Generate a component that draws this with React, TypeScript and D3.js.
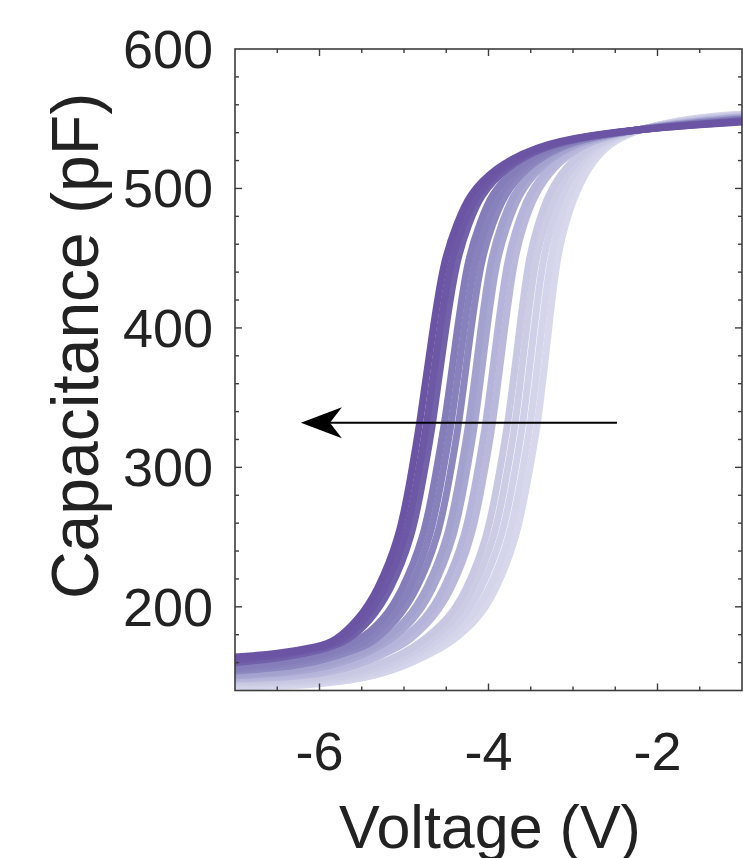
import React from "react";
import * as d3 from "d3";

// ---- data ----
const tailVoltages = [-7, -6.5, -6, -5.5, -5, -4.5];
const capLevels = [175, 190, 210, 250, 290, 330, 390, 450, 475, 495, 515, 530, 538];
const headVoltages = [-2, -1.5, -1];

// capacitance (pF) at tailVoltages (only while still in the flat part)
const curveTails = [
  [164, 166.2, 171.5],
  [162, 165, 170.3],
  [160, 162.9, 168.4],
  [157, 159.6, 164.8],
  [155.5, 158, 162.8, 173.4],
  [154, 156, 160.5, 170.7],
  [151.5, 153.3, 157.2, 166.9],
  [150.5, 152.2, 155.4, 164.6],
  [149, 150.3, 153, 160.8],
  [148, 149.1, 151.5, 158.3, 173.4],
  [146.5, 147.2, 149.1, 154, 166.4],
  [145.5, 146.1, 147.7, 151.8, 163.1],
  [144.5, 145, 146.4, 149.7, 159.9],
  [143.5, 143.8, 145, 148.1, 156.9],
  [142.5, 143, 144.5, 148.5, 156.5, 172.5],
];

// voltage (V) at which each curve crosses capLevels
const curveCrossings = [
  [-5.82, -5.55, -5.32, -5.05, -4.93, -4.815, -4.68, -4.53, -4.37, -4.24, -3.92, -3.45, -2.85],
  [-5.74, -5.47, -5.24, -4.97, -4.85, -4.73, -4.6, -4.45, -4.29, -4.16, -3.85, -3.4, -2.82],
  [-5.67, -5.4, -5.17, -4.9, -4.78, -4.66, -4.53, -4.38, -4.23, -4.1, -3.8, -3.36, -2.8],
  [-5.53, -5.25, -5.03, -4.76, -4.64, -4.52, -4.39, -4.25, -4.1, -3.98, -3.69, -3.27, -2.76],
  [-5.45, -5.17, -4.94, -4.68, -4.56, -4.44, -4.31, -4.17, -4.02, -3.9, -3.62, -3.22, -2.73],
  [-5.36, -5.09, -4.86, -4.59, -4.47, -4.35, -4.23, -4.09, -3.95, -3.82, -3.56, -3.17, -2.7],
  [-5.25, -4.97, -4.74, -4.47, -4.35, -4.23, -4.11, -3.98, -3.84, -3.72, -3.46, -3.1, -2.66],
  [-5.18, -4.89, -4.67, -4.4, -4.28, -4.16, -4.04, -3.91, -3.77, -3.65, -3.41, -3.06, -2.64],
  [-5.05, -4.76, -4.54, -4.27, -4.15, -4.03, -3.91, -3.78, -3.65, -3.53, -3.3, -2.98, -2.6],
  [-4.96, -4.68, -4.45, -4.19, -4.07, -3.95, -3.83, -3.7, -3.58, -3.46, -3.24, -2.93, -2.57],
  [-4.79, -4.49, -4.27, -4.01, -3.89, -3.77, -3.65, -3.53, -3.41, -3.3, -3.1, -2.82, -2.51],
  [-4.7, -4.41, -4.19, -3.92, -3.8, -3.68, -3.57, -3.45, -3.33, -3.22, -3.03, -2.77, -2.49],
  [-4.61, -4.32, -4.1, -3.83, -3.71, -3.59, -3.48, -3.36, -3.25, -3.14, -2.96, -2.72, -2.46],
  [-4.52, -4.23, -4.0, -3.74, -3.62, -3.5, -3.39, -3.27, -3.17, -3.06, -2.89, -2.66, -2.43],
  [-4.44, -4.14, -3.92, -3.66, -3.54, -3.415, -3.305, -3.195, -3.09, -2.98, -2.82, -2.61, -2.4],
];

// capacitance (pF) at headVoltages
const curveHeads = [
  [543.5, 545.6, 547.7],
  [543.6, 545.9, 548.1],
  [543.7, 546.2, 548.5],
  [543.9, 546.7, 549.1],
  [544, 547, 549.5],
  [544.2, 547.4, 549.9],
  [544.4, 547.9, 550.4],
  [544.5, 548.2, 550.7],
  [544.8, 548.7, 551.2],
  [545, 549, 551.5],
  [545.3, 549.7, 552.2],
  [545.4, 550, 552.5],
  [545.6, 550.4, 552.8],
  [545.8, 550.8, 553.1],
  [546, 551.2, 553.4],
];

const curveColors = [
  "#6a54a3", "#6d58a6", "#7260aa",
  "#847db9", "#8882bc", "#8c87bf",
  "#a3a2cf", "#a8a7d2",
  "#b5b4da", "#bab9dc",
  "#c8c8e3", "#cccce5", "#d0d0e8", "#d4d4ea", "#d8d8ec",
];

const xTickLabels = [-6, -4, -2];
const xMinorTicks = [-6.5, -6, -5.5, -5, -4.5, -4, -3.5, -3, -2.5, -2, -1.5];
const yTickLabels = [200, 300, 400, 500, 600];
const yMinorTicks = [160, 180, 200, 220, 240, 260, 280, 300, 320, 340, 360, 380, 400, 420, 440, 460, 480, 500, 520, 540, 560, 580];

const arrowStart = [-2.48, 332];
const arrowEnd = [-6.22, 332];

const W = 743;
const H = 858;
const FONT = "'Liberation Sans', Arial, Helvetica, sans-serif";

export default function App() {
  const left = 235, right = 742, top = 49, bottom = 690.5;
  const x = d3.scaleLinear().domain([-7, -1]).range([left, right]);
  const y = d3.scaleLinear().domain([140, 600]).range([bottom, top]);

  const line = d3
    .line<number[]>()
    .x((d) => x(d[0]))
    .y((d) => y(d[1]))
    .curve(d3.curveBasis);

  const curves = curveCrossings.map((cross, i) => {
    const pts: number[][] = [];
    curveTails[i].forEach((c, j) => pts.push([tailVoltages[j], c]));
    cross.forEach((v, j) => pts.push([v, capLevels[j]]));
    curveHeads[i].forEach((c, j) => pts.push([headVoltages[j], c]));
    return pts;
  });

  // draw lightest first so the darkest ends up on top
  const order = curves.map((_, i) => i).reverse();

  const axisColor = "#3c3c3c";
  const majorLen = 7;
  const minorLen = 4;

  const ax0 = x(arrowStart[0]);
  const ay = y(arrowStart[1]);
  const tipX = x(arrowEnd[0]);

  return (
    <svg
      width={W}
      height={H}
      style={{ position: "absolute", left: 0, top: 0, background: "#fff" }}
    >
      <rect x={0} y={0} width={W} height={H} fill="#fff" />
      <g>
        {order.map((i) => (
          <path
            key={i}
            d={line(curves[i]) || ""}
            fill="none"
            stroke={curveColors[i]}
            strokeWidth={7}
            strokeLinejoin="round"
          />
        ))}
      </g>

      {/* axes box */}
      <rect
        x={left}
        y={top}
        width={right - left}
        height={bottom - top}
        fill="none"
        stroke={axisColor}
        strokeWidth={1.6}
      />
      {xMinorTicks.map((t) => {
        const len = xTickLabels.includes(t) ? majorLen : minorLen;
        return (
          <g key={"xt" + t} stroke={axisColor} strokeWidth={1.4}>
            <line x1={x(t)} x2={x(t)} y1={bottom} y2={bottom - len} />
            <line x1={x(t)} x2={x(t)} y1={top} y2={top + len} />
          </g>
        );
      })}
      {yMinorTicks.map((t) => {
        const len = yTickLabels.includes(t) ? majorLen : minorLen;
        return (
          <g key={"yt" + t} stroke={axisColor} strokeWidth={1.4}>
            <line x1={left} x2={left + len} y1={y(t)} y2={y(t)} />
            <line x1={right} x2={right - len} y1={y(t)} y2={y(t)} />
          </g>
        );
      })}

      {/* tick labels */}
      {xTickLabels.map((t) => (
        <text
          key={"xl" + t}
          x={x(t)}
          y={770}
          textAnchor="middle"
          fontFamily={FONT}
          fontSize={54}
          fill="#222"
        >
          {String(t)}
        </text>
      ))}
      {yTickLabels.map((t) => (
        <text
          key={"yl" + t}
          x={213}
          y={y(t) + 19}
          textAnchor="end"
          fontFamily={FONT}
          fontSize={54}
          fill="#222"
        >
          {String(t)}
        </text>
      ))}

      {/* axis titles */}
      <text
        x={490}
        y={848}
        textAnchor="middle"
        fontFamily={FONT}
        fontSize={61}
        fill="#222"
      >
        Voltage (V)
      </text>
      <text
        transform={`translate(98, 346) rotate(-90)`}
        textAnchor="middle"
        fontFamily={FONT}
        fontSize={66}
        fill="#222"
      >
        Capacitance (pF)
      </text>

      {/* arrow */}
      <line x1={ax0} x2={tipX + 28} y1={ay} y2={ay} stroke="#000" strokeWidth={2} />
      <path
        d={`M${tipX},${ay} L${tipX + 41},${ay - 15.5} L${tipX + 29},${ay} L${tipX + 41},${ay + 15.5} Z`}
        fill="#000"
      />
    </svg>
  );
}
